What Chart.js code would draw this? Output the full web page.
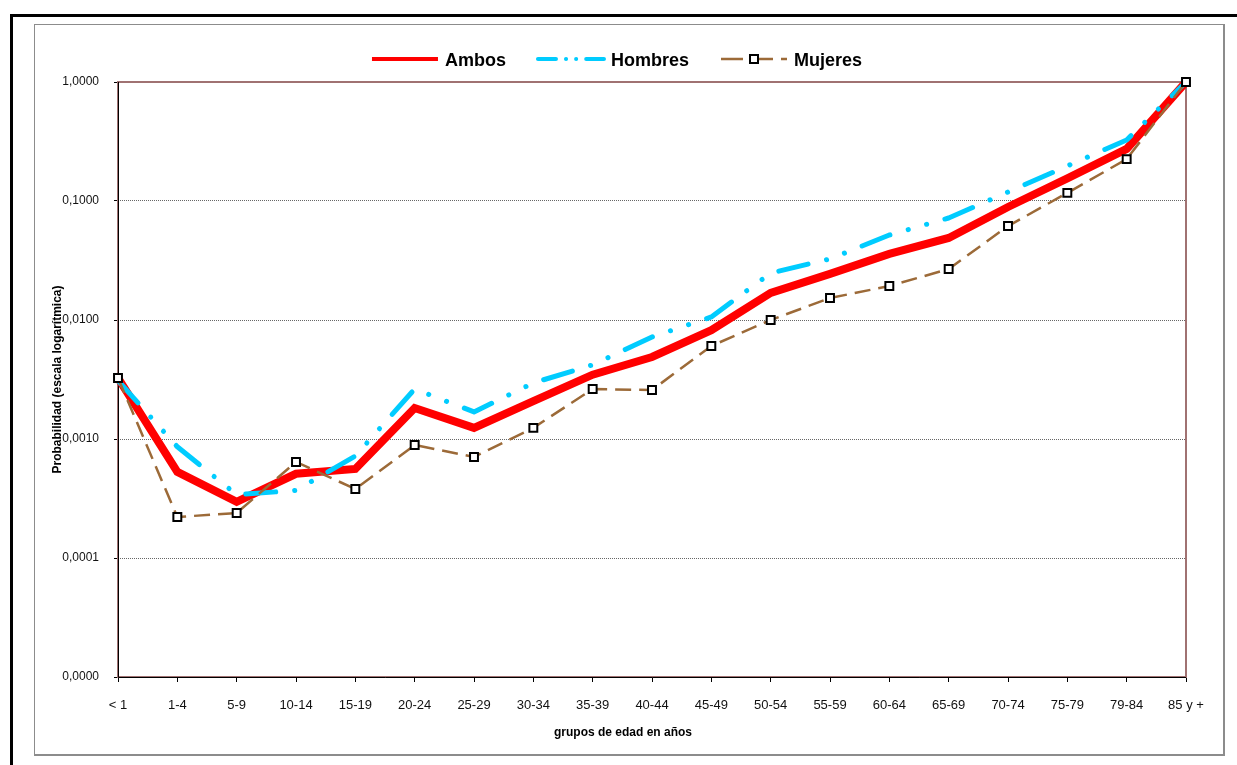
<!DOCTYPE html>
<html lang="es">
<head>
<meta charset="utf-8">
<title>Probabilidad de muerte por grupos de edad</title>
<script src="https://cdn.jsdelivr.net/npm/chart.js@4.4.1/dist/chart.umd.min.js"></script>
<style>
  html, body { margin: 0; padding: 0; background: #fff; overflow: hidden; }
  #marco { position: absolute; left: 10px; top: 14px; width: 1300px; height: 800px; border: 3px solid #000; }
  #caja { position: absolute; left: 34px; top: 24px; width: 1188px; height: 729px;
          border: 1px solid #8c8c8c; border-right-width: 2px; border-bottom-width: 2px; }
  canvas { position: absolute; left: 0; top: 0; }
</style>
</head>
<body>
<div id="marco"></div>
<div id="caja"></div>
<canvas id="grafico" width="1237" height="765"></canvas>
<script>
// grupos de edad
const grupos = ['< 1', '1-4', '5-9', '10-14', '15-19', '20-24', '25-29', '30-34', '35-39', '40-44',
  '45-49', '50-54', '55-59', '60-64', '65-69', '70-74', '75-79', '79-84', '85 y +'];

// probabilidades
const ambos = [0.00326, 0.00053, 0.000296, 0.00051, 0.00056, 0.00182, 0.00124, 0.00208, 0.00347, 0.00489,
  0.0082, 0.0169, 0.0244, 0.0359, 0.0489, 0.089, 0.155, 0.274, 1.0];
const hombres = [0.0031, 0.00086, 0.00034, 0.00037, 0.00072, 0.00263, 0.00169, 0.00296, 0.0042, 0.0072,
  0.0106, 0.0248, 0.0326, 0.0518, 0.072, 0.119, 0.197, 0.326, 1.0];
const mujeres = [0.00326, 0.000221, 0.000239, 0.000641, 0.00038, 0.00089, 0.000706, 0.00124, 0.00263, 0.00258,
  0.00605, 0.0100, 0.0153, 0.0193, 0.0268, 0.0616, 0.117, 0.225, 1.0];

// marcas del eje y
const marcasY = [0.00001, 0.0001, 0.001, 0.01, 0.1, 1];

Chart.defaults.font.family = '"Liberation Sans", Arial, sans-serif';
Chart.defaults.color = '#000';

const fuente = '"Liberation Sans", Arial, sans-serif';

// marco del area de trazado
const areaTrazado = {
  id: 'areaTrazado',
  beforeDatasetsDraw(chart) {
    const { ctx, chartArea: a } = chart;
    ctx.save();
    ctx.strokeStyle = '#a07272';
    ctx.lineWidth = 2;
    ctx.strokeRect(a.left, a.top, a.right - a.left, a.bottom - a.top);
    ctx.strokeStyle = '#000';
    ctx.lineWidth = 1;
    ctx.beginPath();
    ctx.moveTo(a.left + 0.5, a.top);
    ctx.lineTo(a.left + 0.5, a.bottom + 0.5);
    ctx.lineTo(a.right, a.bottom + 0.5);
    ctx.stroke();
    ctx.restore();
  }
};

// leyenda y titulo del eje x
const leyenda = {
  id: 'leyenda',
  afterDraw(chart) {
    const ctx = chart.ctx;
    ctx.save();
    ctx.font = 'bold 18px ' + fuente;
    const largo = 66, hueco = 7, sep = 32, y = 59;
    const series = chart.data.datasets;
    let total = 0;
    series.forEach((d, i) => {
      total += largo + hueco + ctx.measureText(d.label).width + (i ? sep : 0);
    });
    let x = 617 - total / 2;
    series.forEach(d => {
      ctx.beginPath();
      ctx.strokeStyle = d.borderColor;
      ctx.lineWidth = d.legendWidth;
      ctx.lineCap = d.borderCapStyle || 'butt';
      ctx.setLineDash(d.legendDash);
      ctx.moveTo(x, y);
      ctx.lineTo(x + largo, y);
      ctx.stroke();
      ctx.setLineDash([]);
      if (d.pointRadius > 0) {
        ctx.fillStyle = d.pointBackgroundColor;
        ctx.strokeStyle = d.pointBorderColor;
        ctx.lineWidth = d.pointBorderWidth;
        ctx.beginPath();
        ctx.rect(x + largo / 2 - 4, y - 4, 8, 8);
        ctx.fill();
        ctx.stroke();
      }
      x += largo + hueco;
      ctx.fillStyle = '#000';
      ctx.textBaseline = 'alphabetic';
      ctx.fillText(d.label, x, 66);
      x += ctx.measureText(d.label).width + sep;
    });

    ctx.font = 'bold 12px ' + fuente;
    ctx.textAlign = 'center';
    ctx.textBaseline = 'middle';
    ctx.fillText('grupos de edad en años', 623, 733);
    ctx.restore();
  }
};

new Chart(document.getElementById('grafico'), {
  type: 'line',
  data: {
    labels: grupos,
    datasets: [
      {
        label: 'Ambos',
        data: ambos,
        borderColor: '#ff0000',
        borderWidth: 8,
        borderJoinStyle: 'miter',
        pointRadius: 0,
        legendWidth: 4,
        legendDash: [],
        order: 3
      },
      {
        label: 'Hombres',
        data: hombres,
        borderColor: '#00ccff',
        borderWidth: 5,
        borderDash: [30, 19, 0.1, 19, 0.1, 19],
        borderCapStyle: 'round',
        borderJoinStyle: 'round',
        pointRadius: 0,
        legendWidth: 4,
        legendDash: [18, 10, 0.1, 10, 0.1, 10],
        order: 2
      },
      {
        label: 'Mujeres',
        data: mujeres,
        borderColor: '#9c6a38',
        borderWidth: 2.5,
        borderDash: [16, 8],
        pointStyle: 'rect',
        pointRadius: 5.6,
        pointBorderWidth: 2,
        pointBorderColor: '#000',
        pointBackgroundColor: '#fff',
        legendWidth: 2.5,
        legendDash: [22, 8],
        order: 1
      }
    ]
  },
  options: {
    responsive: false,
    animation: false,
    devicePixelRatio: 1,
    clip: false,
    elements: { line: { tension: 0 } },
    layout: { padding: { left: 40, right: 51, top: 82, bottom: 0 } },
    plugins: { legend: { display: false }, tooltip: { enabled: false } },
    scales: {
      x: {
        type: 'category',
        offset: false,
        border: { display: false },
        grid: { drawOnChartArea: false, drawTicks: true, tickLength: 5, tickColor: '#000' },
        ticks: { autoSkip: false, maxRotation: 0, padding: 16, color: '#111', font: { size: 13 } },
        afterFit(scale) { scale.height = 88; }
      },
      y: {
        type: 'logarithmic',
        min: 0.00001,
        max: 1,
        border: { display: false, dash: [1, 1] },
        grid: {
          color: c => (c.index === 0 || c.index === marcasY.length - 1) ? 'rgba(0,0,0,0)' : '#666',
          lineWidth: 1,
          tickLength: 4,
          tickColor: '#000',
          tickBorderDash: []
        },
        afterBuildTicks(scale) { scale.ticks = marcasY.map(v => ({ value: v })); },
        ticks: {
          padding: 15,
          color: '#111',
          font: { size: 12 },
          callback: v => Number(v).toFixed(4).replace('.', ',')
        },
        title: {
          display: true,
          text: 'Probabilidad (escala logarítmica)',
          font: { size: 12, weight: 'bold' },
          color: '#000',
          padding: { top: 10, bottom: 0 }
        },
        afterFit(scale) { scale.width = 78; }
      }
    }
  },
  plugins: [areaTrazado, leyenda]
});
</script>
</body>
</html>
